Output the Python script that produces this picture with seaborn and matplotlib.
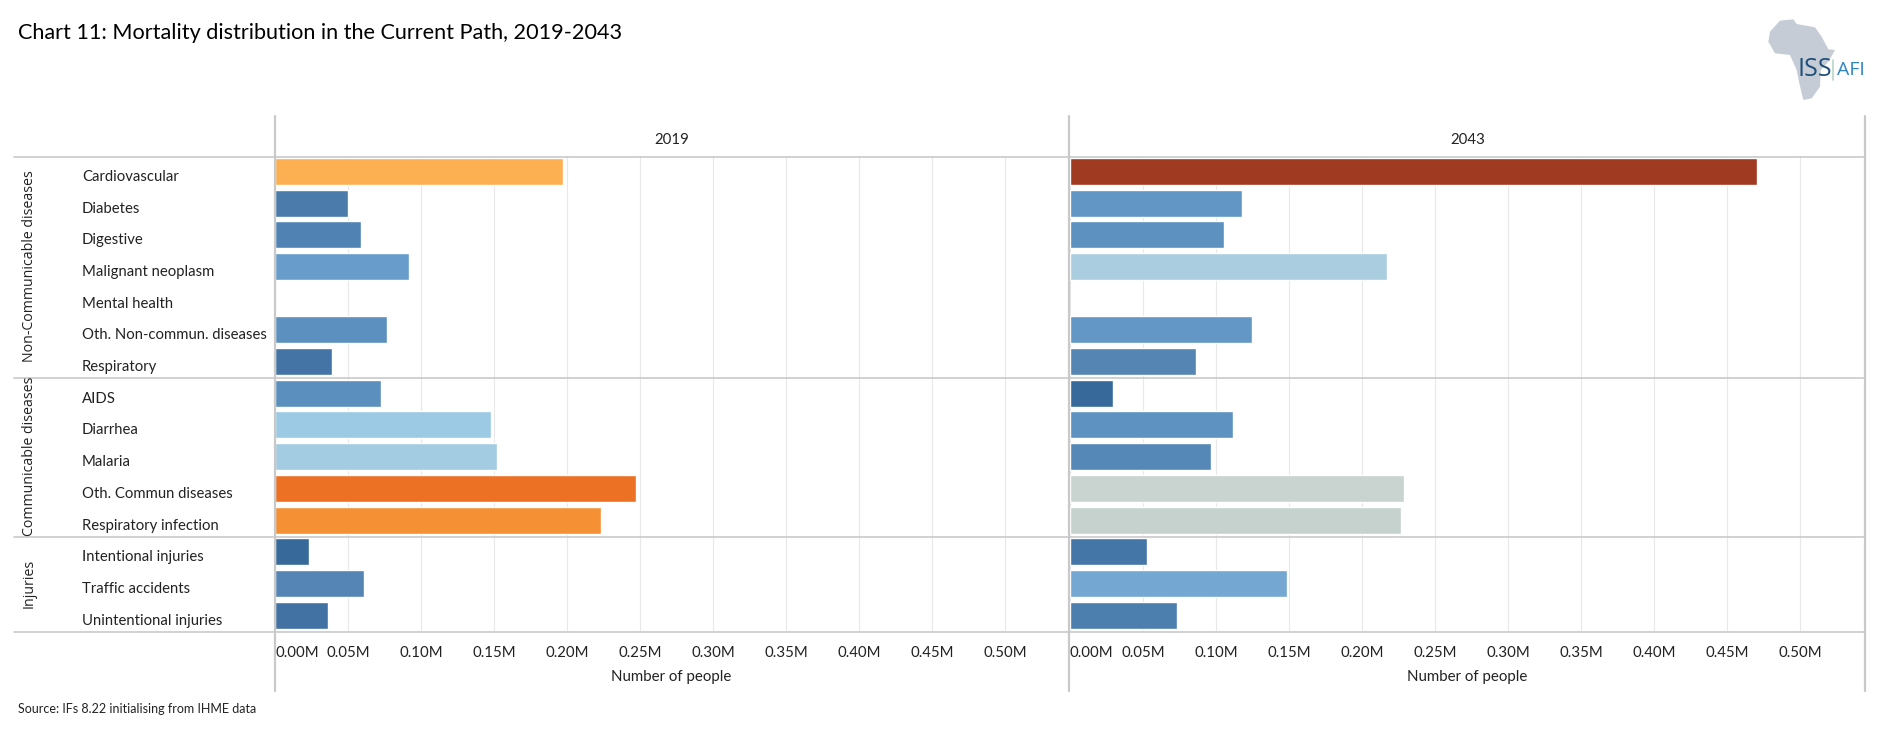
import numpy as np
import pandas as pd
import matplotlib
matplotlib.use("Agg")
import matplotlib.pyplot as plt
from matplotlib.lines import Line2D
from matplotlib.patches import Polygon
from matplotlib.transforms import Affine2D, ScaledTranslation
import seaborn as sns

# chart data, values in millions of people
categories = [
    "Cardiovascular", "Diabetes", "Digestive", "Malignant neoplasm", "Mental health",
    "Oth. Non-commun. diseases", "Respiratory", "AIDS", "Diarrhea", "Malaria",
    "Oth. Commun diseases", "Respiratory infection", "Intentional injuries",
    "Traffic accidents", "Unintentional injuries",
]
values_2019 = [0.197, 0.050, 0.059, 0.092, np.nan, 0.077, 0.039, 0.0725, 0.148, 0.152,
               0.247, 0.223, 0.023, 0.061, 0.036]
values_2043 = [0.4705, 0.1175, 0.1058, 0.2172, np.nan, 0.1245, 0.0865, 0.0295, 0.1115, 0.0968,
               0.229, 0.2265, 0.0525, 0.1487, 0.0735]
colors_2019 = ["#FDB052", "#4A7BAB", "#5083B3", "#689DCB", "#FFFFFF", "#5B90BF", "#4474A5",
               "#5A8FBE", "#9CC9E3", "#A3CCE2", "#EC7124", "#F69035", "#376A9B", "#5485B4", "#4271A3"]
colors_2043 = ["#A03A20", "#6196C5", "#5C91C0", "#ABCDE0", "#FFFFFF", "#6398C6", "#5585B3",
               "#376A9B", "#5E93C1", "#5588B7", "#C9D3CF", "#C5D2CE", "#4576A8", "#74A8D2", "#4C7EAE"]
x_ticks = [0.00, 0.05, 0.10, 0.15, 0.20, 0.25, 0.30, 0.35, 0.40, 0.45, 0.50]
x_tick_labels = ["0.00M", "0.05M", "0.10M", "0.15M", "0.20M", "0.25M", "0.30M", "0.35M",
                 "0.40M", "0.45M", "0.50M"]
group_names = ["Non-Communicable diseases", "Communicable diseases", "Injuries"]
group_sizes = [7, 5, 3]

W, H = 1880, 739
TOP, BOTTOM = 156.5, 632
LINE_GREY = "#C9C9C9"

sns.set_theme(style="white")
plt.rcParams["font.family"] = ["Lato", "DejaVu Sans"]

fig = plt.figure(figsize=(W / 100, H / 100), dpi=100, facecolor="white")


def add_panel(x0, x1, year, values, colors, show_labels):
    # bars sit a pixel above the row separators in the reference
    ax = fig.add_axes([x0 / W, 1 - (BOTTOM - 1) / H, (x1 - x0) / W, (BOTTOM - TOP) / H])
    df = pd.DataFrame({"category": categories, "value": values})
    sns.barplot(data=df, x="value", y="category", hue="category", order=categories,
                hue_order=categories, palette=dict(zip(categories, colors)), width=0.85,
                dodge=False, legend=False, saturation=1, ax=ax, zorder=3)
    ax.set_xlim(0, (x1 - x0) / 1460)
    ax.set_ylim(14.5, -0.5)
    ax.set_xticks(x_ticks)
    ax.set_xticklabels(x_tick_labels, fontsize=10.8, color="#222222")
    ax.get_xticklabels()[0].set_ha("left")
    ax.tick_params(axis="x", length=0, pad=10.5)
    ax.grid(axis="x", color="#E8E8E8", lw=0.8, zorder=0)
    ax.set_axisbelow(True)
    if show_labels:
        ax.set_yticks(range(len(categories)))
        ax.set_yticklabels(categories, fontsize=10.7, color="#222222", ha="left")
        ax.tick_params(axis="y", length=0, pad=(x0 - 82) * 0.72)
        shift = ScaledTranslation(0, -4 / 100, fig.dpi_scale_trans)
        for lab in ax.get_yticklabels():
            lab.set_transform(lab.get_transform() + shift)
    else:
        ax.set_yticks([])
    ax.set_ylabel("")
    ax.set_xlabel("Number of people", fontsize=10.8, color="#222222", labelpad=7.5)
    for s in ax.spines.values():
        s.set_visible(False)
    fig.text((x0 + x1 + 1) / 2 / W, 1 - 140.5 / H, year, ha="center", va="center",
             fontsize=10.8, color="#222222")
    return ax


add_panel(275, 1068, "2019", values_2019, colors_2019, True)
add_panel(1070, 1865, "2043", values_2043, colors_2043, False)

# separators and panel borders
row_h = (BOTTOM - TOP) / sum(group_sizes)
y_pos = TOP
fig.add_artist(Line2D([14 / W, 1865 / W], [1 - TOP / H] * 2, color=LINE_GREY, lw=1.2))
for name, size in zip(group_names, group_sizes):
    y_next = y_pos + size * row_h
    fig.add_artist(Line2D([14 / W, 1865 / W], [1 - y_next / H] * 2, color=LINE_GREY, lw=1.2))
    fig.text(29.5 / W, 1 - (y_pos + y_next - 2) / 2 / H, name, rotation=90, ha="center", va="center",
             fontsize=10.2, color="#222222", family="Open Sans")
    y_pos = y_next
for px in [275, 1069, 1865]:
    fig.add_artist(Line2D([px / W, px / W], [1 - 116 / H, 1 - 691 / H], color=LINE_GREY, lw=1.6))

fig.text(18 / W, 1 - 33 / H, "Chart 11: Mortality distribution in the Current Path, 2019-2043",
         ha="left", va="center", fontsize=15.6, color="black")
fig.text(18 / W, 1 - 709 / H, "Source: IFs 8.22 initialising from IHME data",
         ha="left", va="center", fontsize=9, color="#222222")

# logo
africa = [(240, 62), (280, 58), (290, 72), (345, 82), (365, 110), (385, 148), (405, 150),
          (385, 185), (362, 210), (360, 260), (335, 295), (310, 300), (298, 250), (290, 210),
          (270, 165), (225, 160), (205, 125), (210, 95)]
px_to_fig = Affine2D().scale(1 / 3).translate(1700, 0).scale(1 / W, -1 / H).translate(0, 1) + fig.transFigure
fig.add_artist(Polygon(africa, closed=True, facecolor="#C5CCD6", edgecolor="none", transform=px_to_fig))
fig.text(1798 / W, 1 - 70 / H, "ISS", ha="left", va="center", fontsize=18, color="#1F4E79", family="Open Sans")
fig.add_artist(Line2D([1833 / W, 1833 / W], [1 - 60 / H, 1 - 80 / H], color="#B8D8C8", lw=1.2))
fig.text(1837 / W, 1 - 70 / H, "AFI", ha="left", va="center", fontsize=14, color="#2E86C1", family="Open Sans")

fig.savefig("out.png", dpi=100, facecolor="white")
